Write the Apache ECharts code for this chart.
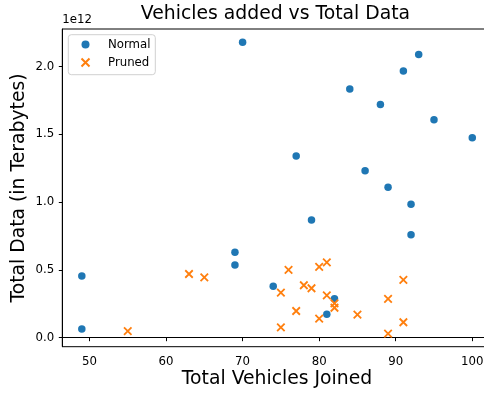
<!DOCTYPE html>
<html>
<head>
<meta charset="utf-8">
<script src="https://cdn.jsdelivr.net/npm/echarts@6/dist/echarts.min.js"></script>
<style>
  html, body { margin: 0; padding: 0; background: #fff; }
  #chart { width: 484px; height: 393px; }
</style>
</head>
<body>
<div id="chart"></div>
<script>
// Vehicles joined (x) and total data in units of 1e12 bytes (y)
const normalVehicles = [49, 49, 70, 69, 69, 74, 93, 91, 84, 88, 95, 100, 77, 86, 89, 92, 79, 92, 82, 81];
const normalData = [0.455, 0.064, 2.18, 0.63, 0.537, 0.38, 2.089, 1.968, 1.835, 1.72, 1.609, 1.476, 1.341, 1.232, 1.11, 0.984, 0.869, 0.76, 0.288, 0.173];

const prunedVehicles = [55, 63, 65, 75, 75, 76, 77, 78, 79, 80, 81, 80, 81, 82, 82, 85, 89, 89, 91, 91];
const prunedData = [0.049, 0.47, 0.446, 0.332, 0.077, 0.5, 0.197, 0.387, 0.365, 0.522, 0.556, 0.14, 0.313, 0.254, 0.221, 0.17, 0.286, 0.03, 0.426, 0.114];

const xTicks = [50, 60, 70, 80, 90, 100];
const yTicks = [0, 0.5, 1.0, 1.5, 2.0];

const FONT = 'DejaVu Sans';
const BLUE = '#1f77b4';
const ORANGE = '#ff7f0e';
const CROSS = 'path://M0,0L10,10M10,0L0,10';

const pairs = (xs, ys) => xs.map((x, i) => [x, ys[i]]);

const chart = echarts.init(document.getElementById('chart'), null, { renderer: 'canvas' });

chart.setOption({
  animation: false,
  backgroundColor: '#fff',
  grid: {
    left: 62.3, top: 29, width: 429.5, height: 317.7,
    containLabel: false, outerBoundsMode: 'none',
    show: true, borderColor: '#000', borderWidth: 1, backgroundColor: 'transparent'
  },
  xAxis: {
    type: 'value', min: 46.45, max: 102.55,
    splitLine: { show: false },
    axisLine: { show: true, lineStyle: { color: '#000', width: 1 } },
    axisTick: { show: true, inside: false, length: 3.5, lineStyle: { color: '#000', width: 1 }, customValues: xTicks },
    axisLabel: { color: '#000', fontFamily: FONT, fontSize: 11.75, margin: 9, customValues: xTicks }
  },
  yAxis: {
    type: 'value', min: -0.0664, max: 2.278,
    splitLine: { show: false },
    axisLine: { show: true, lineStyle: { color: '#000', width: 1 } },
    axisTick: { show: true, inside: false, length: 3.5, lineStyle: { color: '#000', width: 1 }, customValues: yTicks },
    axisLabel: {
      color: '#000', fontFamily: FONT, fontSize: 11.75, margin: 8, customValues: yTicks,
      formatter: v => v.toFixed(1)
    }
  },
  legend: {
    orient: 'vertical', left: 80.5, top: 38.5, padding: 0,
    itemWidth: 9, itemHeight: 8, itemGap: 6,
    textStyle: { color: '#000', fontFamily: FONT, fontSize: 11.75, padding: [0, 0, 0, 13] },
    data: [
      { name: 'Normal', icon: 'circle' },
      { name: 'Pruned', icon: CROSS }
    ]
  },
  graphic: [
    { type: 'rect', z: -1, shape: { x: 68.3, y: 34.7, width: 87, height: 40, r: 3 },
      style: { fill: 'rgba(255,255,255,0.8)', stroke: '#d0d0d0', lineWidth: 1 } },
    { type: 'text', x: 275.5, y: 14, style: { text: 'Vehicles added vs Total Data', font: '18.8px "DejaVu Sans"', fill: '#000', textAlign: 'center', textVerticalAlign: 'middle' } },
    { type: 'text', x: 62.3, y: 19.5, style: { text: '1e12', font: '11.75px "DejaVu Sans"', fill: '#000', textAlign: 'left', textVerticalAlign: 'middle' } },
    { type: 'text', x: 277, y: 379, style: { text: 'Total Vehicles Joined', font: '18.8px "DejaVu Sans"', fill: '#000', textAlign: 'center', textVerticalAlign: 'middle' } },
    { type: 'text', x: 19.5, y: 188, rotation: Math.PI / 2, style: { text: 'Total Data (in Terabytes)', font: '18.8px "DejaVu Sans"', fill: '#000', textAlign: 'center', textVerticalAlign: 'middle' } }
  ],
  series: [
    {
      name: 'Normal', type: 'scatter', symbol: 'circle', symbolSize: 7.5,
      itemStyle: { color: BLUE, opacity: 1 },
      data: pairs(normalVehicles, normalData)
    },
    {
      name: 'Pruned', type: 'scatter', symbol: CROSS, symbolSize: 7.5,
      itemStyle: { color: ORANGE, borderColor: ORANGE, borderWidth: 1.8, opacity: 1 },
      data: pairs(prunedVehicles, prunedData)
    }
  ]
});
</script>
</body>
</html>
